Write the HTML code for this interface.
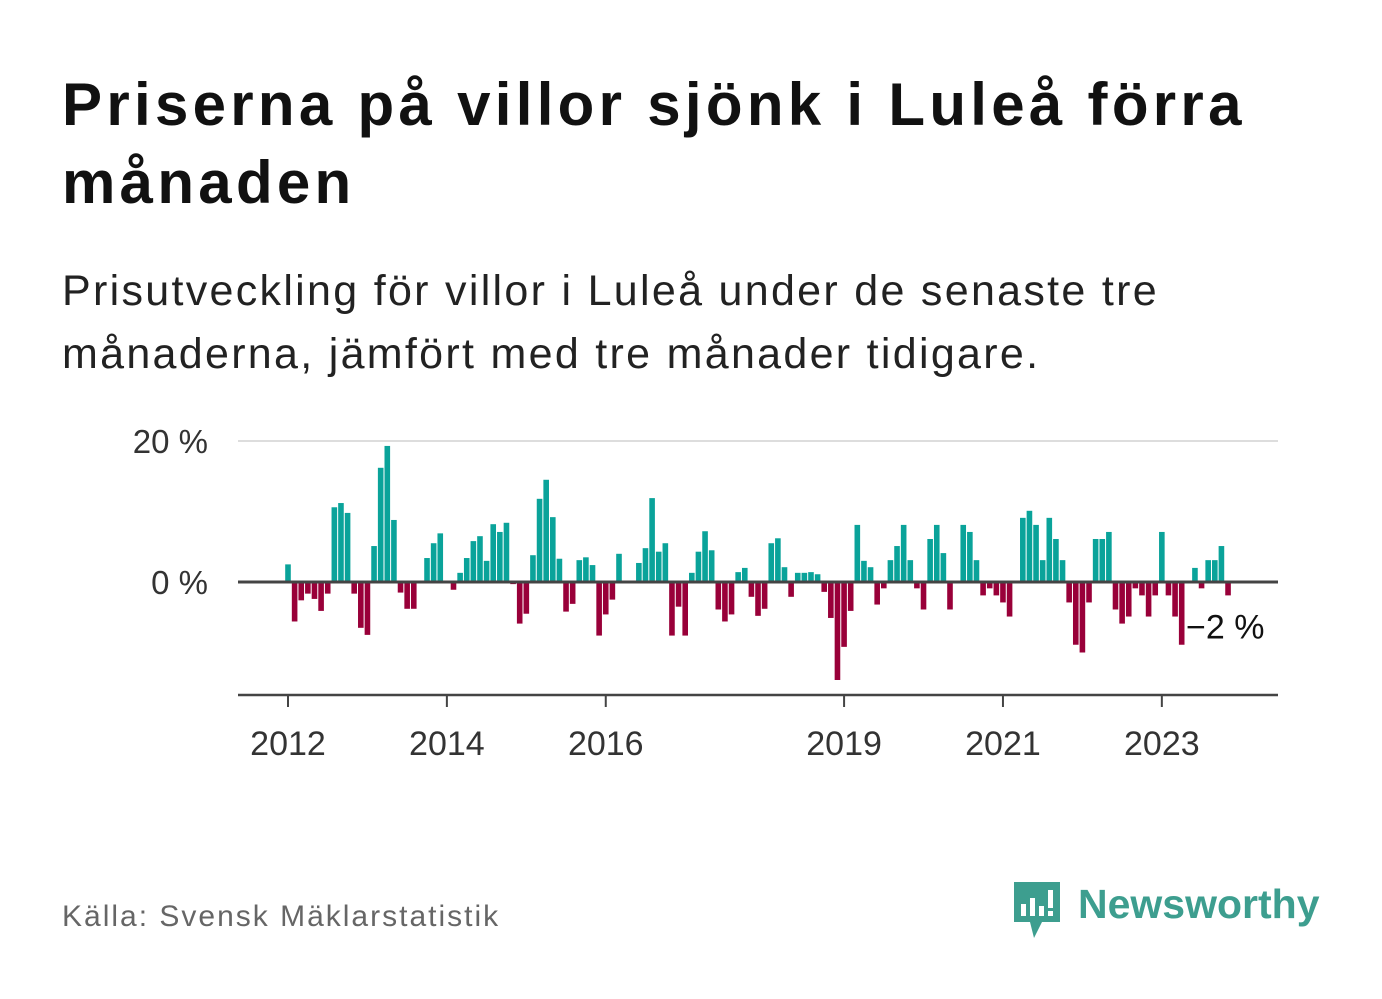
<!DOCTYPE html>
<html><head><meta charset="utf-8"><style>
body{margin:0;width:1382px;height:999px;background:#fff;font-family:"Liberation Sans",sans-serif;position:relative;overflow:hidden}
h1{position:absolute;left:62px;top:66px;margin:0;font-size:60px;line-height:78px;font-weight:bold;color:#111;width:1300px;letter-spacing:4.3px}
p.sub{position:absolute;left:62px;top:260px;margin:0;font-size:43px;line-height:63px;color:#222;width:1250px;letter-spacing:2.3px}
.src{position:absolute;left:62px;top:900px;font-size:30px;color:#666;letter-spacing:2px}
.logo{position:absolute;left:1012px;top:880px}
</style></head><body>
<h1>Priserna på villor sjönk i Luleå förra månaden</h1>
<p class="sub">Prisutveckling för villor i Luleå under de senaste tre månaderna, jämfört med tre månader tidigare.</p>
<svg id="chart" width="1382" height="999" style="position:absolute;left:0;top:0"></svg>
<div class="src">Källa: Svensk Mäklarstatistik</div>
<div class="logo">
<svg width="310" height="60"><path d="M2 2h46v40H30l-8 16-4-16H2z" fill="#3d9e8f"/><rect x="9" y="24" width="5" height="12" fill="#fff"/><rect x="18" y="18" width="5" height="18" fill="#fff"/><rect x="27" y="26" width="5" height="10" fill="#fff"/><rect x="36" y="10" width="5" height="18" fill="#fff"/><rect x="36" y="31" width="5" height="5" fill="#fff"/>
<text x="66" y="38" font-family="Liberation Sans, sans-serif" font-size="41" font-weight="bold" fill="#3d9e8f">Newsworthy</text></svg></div>
<script>
const startYear = 2012;
const values = [2.5,-5.6,-2.6,-1.65,-2.4,-4.1,-1.65,10.6,11.2,9.8,-1.65,-6.5,-7.5,5.1,16.2,19.3,8.8,-1.5,-3.8,-3.8,null,3.4,5.5,6.9,
null,-1.1,1.3,3.4,5.8,6.5,3.0,8.2,7.1,8.4,-0.3,-5.9,-4.5,3.8,11.8,14.5,9.2,3.3,-4.2,-3.1,3.1,3.5,2.4,-7.6,
-4.6,-2.5,4.0,null,null,2.7,4.8,11.9,4.3,5.5,-7.6,-3.5,-7.6,1.3,4.3,7.2,4.5,-3.9,-5.6,-4.6,1.4,2.0,-2.1,-4.8,
-3.8,5.5,6.2,2.1,-2.1,1.3,1.3,1.4,1.1,-1.4,-5.1,-13.9,-9.2,-4.1,8.1,3.0,2.1,-3.2,-0.9,3.1,5.1,8.1,3.1,-0.9,
-3.9,6.1,8.1,4.1,-3.9,null,8.1,7.1,3.1,-1.9,-0.9,-1.9,-2.9,-4.9,null,9.1,10.1,8.1,3.1,9.1,6.1,3.1,-2.9,-8.9,
-10.0,-2.9,6.1,6.1,7.1,-3.9,-5.9,-4.9,-0.9,-1.9,-4.9,-1.9,7.1,-1.9,-4.9,-8.9,null,2.0,-0.9,3.1,3.1,5.1,-1.9];
const yTicks = [0, 20];
const yTickLabels = ["0 %", "20 %"];
const xTickYears = [2012, 2014, 2016, 2019, 2021, 2023];
const lastLabel = "−2 %";

const NS = "http://www.w3.org/2000/svg";
const svg = document.getElementById("chart");
const x = m => 288 + m * 6.62;
const y = v => 582 - v * 7.05;
function mk(t, a){const e=document.createElementNS(NS,t);for(const k in a)e.setAttribute(k,a[k]);svg.appendChild(e);return e;}
yTicks.forEach((t,i)=>{
  if(t!==0){const g=mk("line",{x1:238,x2:1278,y1:y(t),y2:y(t),stroke:"#ddd","stroke-width":2});
  
  }
  const l=mk("text",{x:208,y:y(t)+12,"text-anchor":"end","font-size":33,fill:"#333","font-family":"Liberation Sans, sans-serif"});
  l.textContent=yTickLabels[i];
  
  
});
values.forEach((v,m)=>{
  if(v===null)return;
  const r=mk("rect",{x:x(m)-2.8,width:5.6,y:v>=0?y(v):y(0),height:Math.abs(y(v)-y(0)),fill:v>=0?"#0aa39a":"#990039"});
  
  
});
const zl=mk("line",{x1:238,x2:1278,y1:y(0),y2:y(0),stroke:"#444","stroke-width":3});


const ax=mk("line",{x1:238,x2:1278,y1:695,y2:695,stroke:"#444","stroke-width":2.5});


xTickYears.forEach(yr=>{
  const xx=x((yr-startYear)*12);
  const tk=mk("line",{x1:xx,x2:xx,y1:695,y2:707,stroke:"#444","stroke-width":2});
  
  
  const t=mk("text",{x:xx,y:755,"text-anchor":"middle","font-size":34,fill:"#333","font-family":"Liberation Sans, sans-serif"});
  t.textContent=yr;
  
  
});
const last=values.length-1;
const lb=mk("text",{x:x(last)-42,y:y(values[last])+43,"font-size":34,fill:"#111","font-family":"Liberation Sans, sans-serif",stroke:"#fff","stroke-width":4,"paint-order":"stroke"});
lb.textContent=lastLabel;


</script>
</body></html>
